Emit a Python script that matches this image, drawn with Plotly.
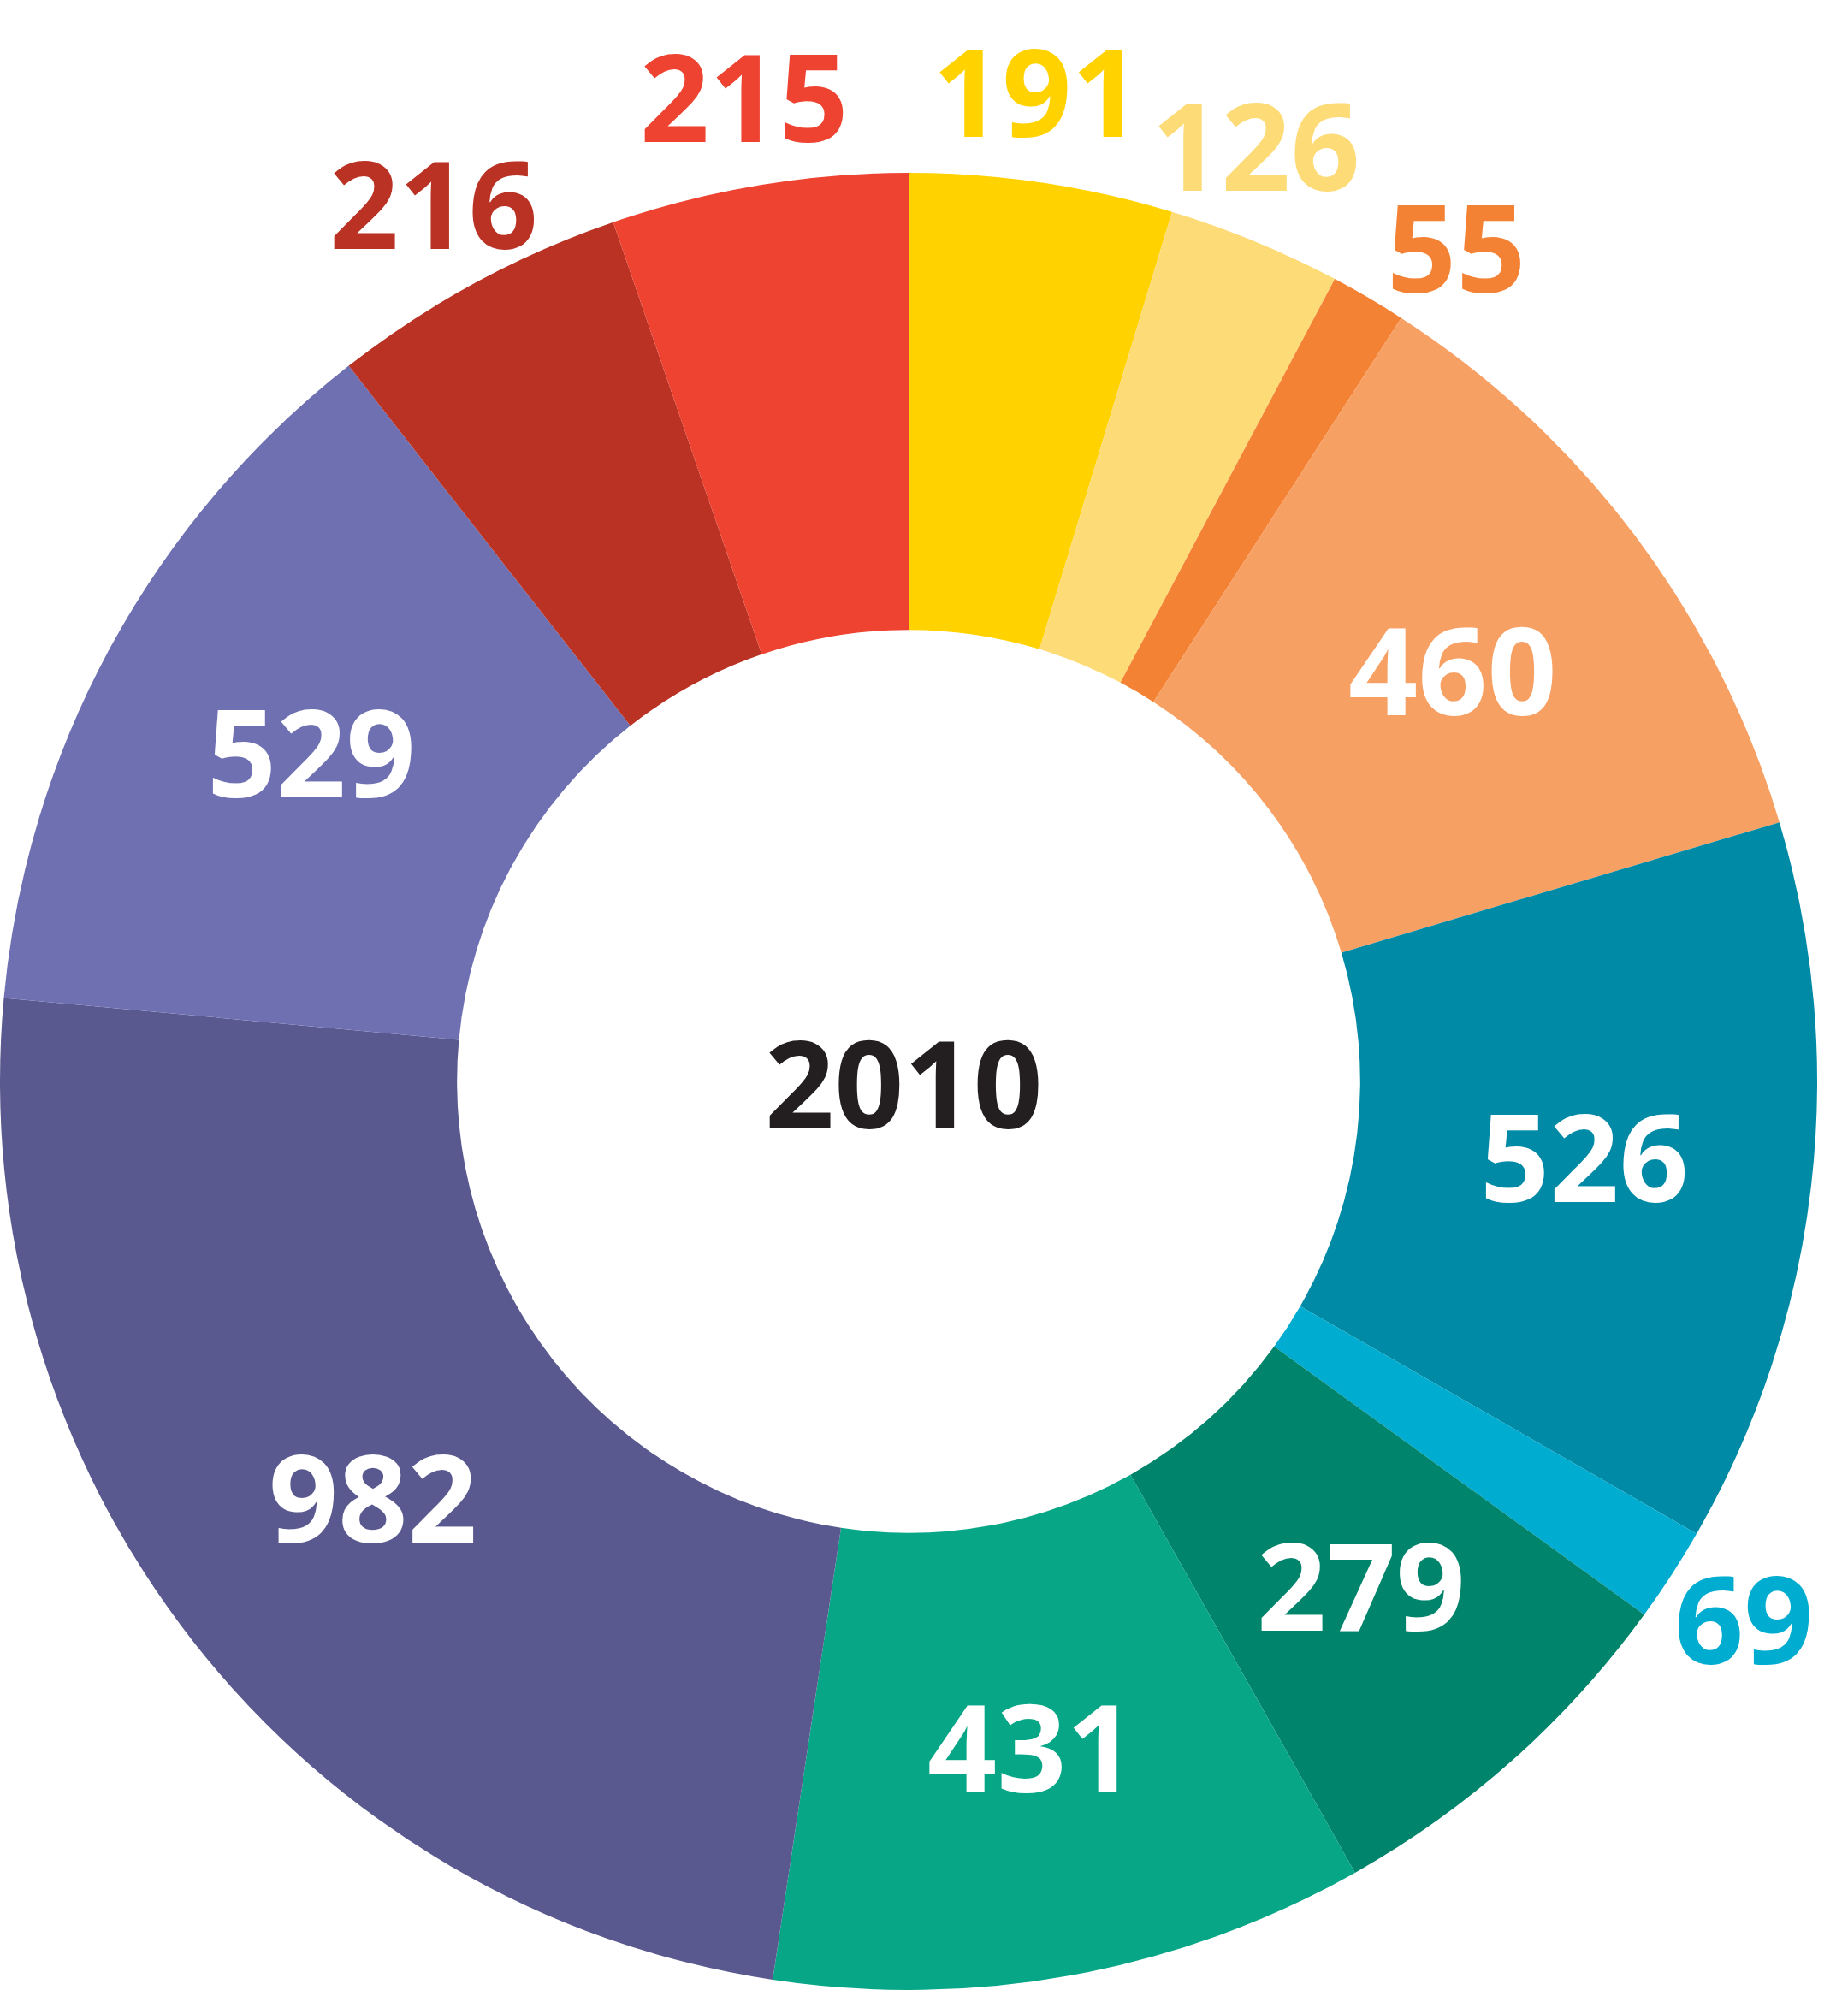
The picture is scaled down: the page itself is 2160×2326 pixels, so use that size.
import math
import plotly.graph_objects as go

# Data (clockwise from 12 o'clock)
values = [191, 126, 55, 460, 526, 69, 279, 431, 982, 529, 216, 215]
labels = ["191", "126", "55", "460", "526", "69", "279", "431", "982", "529", "216", "215"]
colors = ["#FFD200", "#FDDB77", "#F48235", "#F7A063", "#008AA6", "#00ACCF",
          "#00846B", "#06A686", "#59598F", "#6F70B2", "#BA3223", "#EE4331"]
center_label = "2010"

W, H = 2160, 2326
R = 1062
CX, CY = 1062, 1264
HOLE = 0.497
OUTSIDE_THRESHOLD = 250
FONT = "Open Sans"
FSIZE = 142
MIN_SEP = 13.0  # degrees between neighbouring outside labels

fig = go.Figure()
fig.add_trace(go.Pie(
    values=values,
    labels=labels,
    marker=dict(colors=colors, line=dict(width=0)),
    hole=HOLE,
    sort=False,
    direction="clockwise",
    rotation=0,
    textinfo="none",
    hoverinfo="label+value",
    showlegend=False,
    domain=dict(x=[0, 2 * R / W], y=[(H - (CY + R)) / H, (H - (CY - R)) / H]),
))

total = sum(values)
mids = []
cum = 0
for v in values:
    mids.append((cum + v / 2) / total * 360)
    cum += v

# spread neighbouring outside labels so they do not collide
outside = [i for i, v in enumerate(values) if v < OUTSIDE_THRESHOLD]
ang = {i: mids[i] for i in outside}
for _ in range(200):
    for a, b in zip(outside, outside[1:]):
        if b == a + 1:
            d = ang[b] - ang[a]
            if d < MIN_SEP:
                push = (MIN_SEP - d) / 2
                ang[a] -= push
                ang[b] += push

annotations = []
for i, (v, lab, col) in enumerate(zip(values, labels, colors)):
    if i in ang:
        r = 1.095 * R
        tcol = col
        a = math.radians(ang[i])
    else:
        r = (1 + HOLE) / 2 * R
        tcol = "white"
        a = math.radians(mids[i])
    xp = CX + r * math.sin(a)
    yp = CY - r * math.cos(a)
    annotations.append(dict(
        x=xp / W, y=1 - yp / H, xref="paper", yref="paper",
        text=f"<b>{lab}</b>", showarrow=False,
        xanchor="center", yanchor="middle", yshift=6,
        font=dict(family=FONT, size=FSIZE, color=tcol),
    ))

annotations.append(dict(
    x=CX / W, y=1 - CY / H, xref="paper", yref="paper",
    text=f"<b>{center_label}</b>", showarrow=False,
    xanchor="center", yanchor="middle", xshift=-6,
    font=dict(family=FONT, size=FSIZE, color="#231F20"),
))

fig.update_layout(
    width=W, height=H,
    margin=dict(l=0, r=0, t=0, b=0),
    paper_bgcolor="white",
    plot_bgcolor="white",
    annotations=annotations,
)

fig.write_html("out.html", config={"displayModeBar": False},
               post_script="document.body.style.margin='0';")
